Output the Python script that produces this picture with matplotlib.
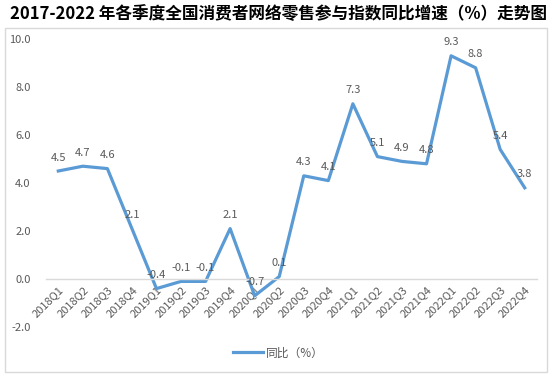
import matplotlib.pyplot as plt
import matplotlib.transforms as mtransforms
from matplotlib.patches import Rectangle

plt.rcParams['font.family'] = ['Noto Sans CJK SC', 'DejaVu Sans']

quarters = ['2018Q1', '2018Q2', '2018Q3', '2018Q4',
            '2019Q1', '2019Q2', '2019Q3', '2019Q4',
            '2020Q1', '2020Q2', '2020Q3', '2020Q4',
            '2021Q1', '2021Q2', '2021Q3', '2021Q4',
            '2022Q1', '2022Q2', '2022Q3', '2022Q4']
yoy = [4.5, 4.7, 4.6, 2.1, -0.4, -0.1, -0.1, 2.1, -0.7, 0.1,
       4.3, 4.1, 7.3, 5.1, 4.9, 4.8, 9.3, 8.8, 5.4, 3.8]
yticks = [-2.0, 0.0, 2.0, 4.0, 6.0, 8.0, 10.0]

blue = '#5B9BD5'
grey = '#595959'

fig = plt.figure(figsize=(5.57, 3.78), dpi=100)
ax = fig.add_axes([46 / 557, 1 - 327 / 378, (537 - 46) / 557, (327 - 39) / 378])

# axis line at zero first (moving the spine resets tick label styles)
for s in ['top', 'right', 'left']:
    ax.spines[s].set_visible(False)
ax.spines['bottom'].set_position(('data', 0))
ax.spines['bottom'].set_color('#D9D9D9')
ax.spines['bottom'].set_linewidth(1)

x = list(range(len(quarters)))
ax.plot(x, yoy, color=blue, linewidth=2.3, label='同比（%）')
for xi, v in zip(x, yoy):
    ax.annotate('%.1f' % v, (xi, v), xytext=(0, 6), textcoords='offset points',
                ha='center', va='bottom', fontsize=8, color=grey)

ax.set_xlim(-0.5, len(quarters) - 0.5)
ax.set_ylim(-2, 10)
ax.set_yticks(yticks)
ax.set_yticklabels(['%.1f' % t for t in yticks], fontsize=8, color=grey)
ax.set_xticks(x)
ax.set_xticklabels(quarters, fontsize=8, color=grey)
shift = mtransforms.ScaledTranslation(4 / 100, 0, fig.dpi_scale_trans)
for lbl in ax.get_xticklabels():
    lbl.set_rotation(45)
    lbl.set_ha('right')
    lbl.set_va('top')
    lbl.set_rotation_mode('anchor')
    lbl.set_transform(lbl.get_transform() + shift)
ax.tick_params(axis='both', length=0)
ax.tick_params(axis='y', pad=11)
ax.tick_params(axis='x', pad=4)

leg = fig.legend(loc='center', bbox_to_anchor=(278 / 557, 1 - 353 / 378),
                 frameon=False, fontsize=8.5, handlelength=2.6, handletextpad=0.2)
for t in leg.get_texts():
    t.set_color(grey)

fig.patches.append(Rectangle((5 / 557, 1 - 372 / 378), 542 / 557, (372 - 28) / 378,
                             transform=fig.transFigure, fill=False,
                             edgecolor='#D9D9D9', linewidth=1))

fig.text(278 / 557, 1 - 14 / 378,
         '2017-2022 年各季度全国消费者网络零售参与指数同比增速（%）走势图',
         ha='center', va='center', fontsize=12, fontweight='bold', color='black')

fig.savefig('out.png', dpi=100)
